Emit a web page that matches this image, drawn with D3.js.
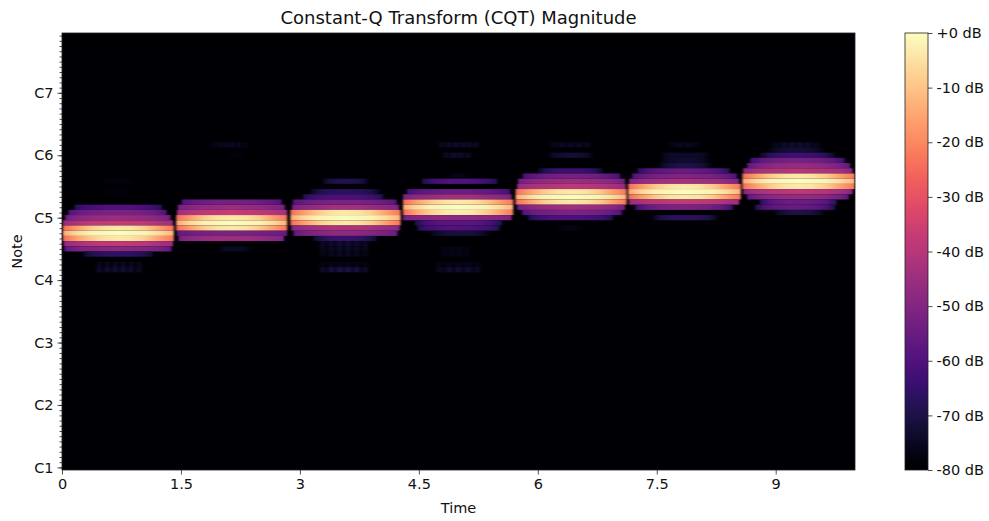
<!DOCTYPE html>
<html>
<head>
<meta charset="utf-8">
<script src="https://cdn.jsdelivr.net/npm/d3@7"></script>
<style>
body { margin: 0; background: white; }
text { font-family: "DejaVu Sans", sans-serif; fill: #111; }
</style>
</head>
<body>
<div id="chart"></div>
<script>
// Each row: [semitones above C1, start sec, end sec, dB readings evenly spread over the span]
var tone_a4 = [
    [55, 0.52, 0.88, [-79,-78,-79,-78,-79,-78,-79,-78,-79]],
    [53, 0.55, 0.85, [-79,-78,-79,-78,-79,-78,-79]],
    [50, 0.16, 1.26, [-68,-63,-61,-60,-60,-60,-61,-63,-68]],
    [49, 0.08, 1.32, [-60,-55,-53,-52,-52,-52,-53,-55,-60]],
    [48, 0.04, 1.37, [-54,-49,-47,-46,-45,-46,-47,-49,-53]],
    [47, 0.01, 1.40, [-46,-42,-39,-38,-37,-38,-39,-42,-45]],
    [46, 0.01, 1.41, [-25,-16,-9,-5,-4,-5,-9,-16,-23]],
    [45, 0.01, 1.41, [-15,-6,-2,-1,0,-1,-2,-6,-13]],
    [44, 0.01, 1.41, [-25,-16,-9,-5,-4,-5,-9,-16,-23]],
    [43, 0.02, 1.40, [-47,-43,-40,-39,-38,-39,-40,-43,-46]],
    [42, 0.03, 1.38, [-57,-52,-50,-49,-48,-49,-50,-52,-56]],
    [41, 0.27, 1.15, [-74,-69,-67,-66,-66,-66,-67,-69,-74]],
    [39, 0.42, 1.02, [-79,-75,-79,-74,-79,-74,-78,-74,-79,-74,-79,-75,-79]],
    [38, 0.42, 1.02, [-79,-73,-78,-71,-77,-71,-77,-71,-77,-72,-78,-73,-79]]
];
var tone_b4 = [
    [62, 1.87, 2.35, [-79,-76,-78,-75,-77,-74,-77,-74,-78,-75,-78,-76,-79]],
    [60, 2.10, 2.28, [-79,-78,-79,-78,-79]],
    [51, 1.51, 2.77, [-60,-56,-54,-53,-53,-53,-54,-56,-60]],
    [50, 1.46, 2.81, [-53,-49,-47,-46,-45,-46,-47,-49,-52]],
    [49, 1.45, 2.84, [-45,-41,-39,-38,-37,-38,-39,-41,-44]],
    [48, 1.44, 2.84, [-25,-16,-9,-5,-4,-5,-9,-16,-23]],
    [47, 1.44, 2.84, [-15,-6,-2,-1,0,-1,-2,-6,-13]],
    [46, 1.44, 2.84, [-25,-16,-9,-5,-4,-5,-9,-16,-23]],
    [45, 1.45, 2.84, [-57,-54,-53,-52,-52,-52,-53,-54,-56]],
    [44, 1.47, 2.80, [-52,-48,-46,-45,-45,-45,-46,-48,-51]],
    [42, 1.97, 2.38, [-79,-76,-75,-75,-75,-75,-75,-76,-79]]
];
var tone_c5 = [
    [55, 3.29, 3.86, [-76,-71,-70,-69,-69,-69,-70,-71,-76]],
    [53, 3.13, 4.01, [-76,-70,-68,-67,-67,-67,-68,-70,-76]],
    [52, 3.04, 4.05, [-69,-64,-62,-61,-61,-61,-62,-64,-69]],
    [51, 2.91, 4.22, [-59,-55,-53,-52,-52,-52,-53,-55,-59]],
    [50, 2.90, 4.25, [-52,-48,-46,-44,-44,-44,-46,-48,-51]],
    [49, 2.88, 4.27, [-25,-16,-9,-5,-4,-5,-9,-16,-23]],
    [48, 2.88, 4.27, [-15,-6,-2,-1,0,-1,-2,-6,-13]],
    [47, 2.88, 4.27, [-25,-16,-9,-5,-4,-5,-9,-16,-23]],
    [46, 2.89, 4.26, [-50,-46,-44,-42,-42,-42,-44,-46,-49]],
    [45, 2.92, 4.23, [-56,-52,-50,-48,-48,-48,-50,-52,-55]],
    [44, 3.17, 3.97, [-74,-69,-66,-65,-65,-65,-66,-69,-74]],
    [43, 3.23, 3.88, [-79,-74,-77,-73,-76,-72,-76,-72,-76,-73,-77,-74,-79]],
    [42, 3.23, 3.88, [-79,-75,-78,-74,-77,-73,-77,-73,-77,-74,-78,-75,-79]],
    [41, 3.23, 3.88, [-79,-76,-78,-75,-78,-74,-78,-74,-78,-75,-78,-76,-79]],
    [39, 3.23, 3.88, [-79,-77,-79,-76,-78,-76,-78,-76,-78,-76,-79,-77,-79]],
    [38, 3.23, 3.88, [-79,-73,-77,-70,-75,-69,-74,-69,-75,-70,-77,-73,-79]]
];
var tone_d5 = [
    [62, 4.74, 5.27, [-79,-74,-77,-73,-76,-73,-76,-73,-76,-73,-77,-74,-79]],
    [60, 4.79, 5.17, [-79,-74,-76,-73,-75,-73,-76,-74,-79]],
    [56, 4.85, 5.15, [-79,-78,-77,-77,-77,-78,-79]],
    [55, 4.54, 5.49, [-70,-64,-61,-60,-60,-60,-61,-64,-70]],
    [53, 4.35, 5.65, [-62,-58,-56,-55,-55,-55,-56,-58,-62]],
    [52, 4.30, 5.67, [-52,-48,-46,-44,-44,-44,-46,-48,-51]],
    [51, 4.30, 5.69, [-25,-16,-9,-5,-4,-5,-9,-16,-23]],
    [50, 4.30, 5.69, [-15,-6,-2,-1,0,-1,-2,-6,-13]],
    [49, 4.30, 5.69, [-25,-15,-8,-4,-3,-4,-8,-15,-23]],
    [48, 4.30, 5.67, [-53,-50,-49,-48,-48,-48,-49,-50,-52]],
    [47, 4.45, 5.55, [-70,-62,-59,-58,-58,-58,-59,-62,-70]],
    [46, 4.48, 5.52, [-70,-63,-61,-60,-60,-60,-61,-63,-70]],
    [45, 4.62, 5.40, [-79,-74,-72,-71,-71,-71,-72,-74,-79]],
    [42, 4.77, 5.15, [-79,-77,-78,-76,-78,-76,-78,-77,-79]],
    [41, 4.77, 5.15, [-79,-77,-78,-76,-78,-76,-78,-77,-79]],
    [39, 4.70, 5.30, [-79,-77,-79,-76,-78,-76,-78,-76,-79,-77,-79]],
    [38, 4.70, 5.30, [-79,-74,-77,-72,-76,-72,-76,-72,-77,-74,-79]]
];
var tone_e5 = [
    [62, 6.15, 6.68, [-79,-75,-77,-74,-77,-74,-77,-74,-77,-75,-79]],
    [60, 6.13, 6.70, [-78,-74,-73,-72,-72,-72,-73,-74,-78]],
    [57, 6.00, 6.82, [-75,-68,-65,-64,-64,-64,-65,-68,-75]],
    [56, 5.81, 7.04, [-61,-57,-54,-53,-52,-53,-54,-57,-61]],
    [55, 5.75, 7.10, [-54,-49,-47,-46,-45,-46,-47,-49,-54]],
    [54, 5.74, 7.11, [-47,-43,-41,-40,-39,-40,-41,-43,-47]],
    [53, 5.72, 7.12, [-25,-16,-9,-5,-4,-5,-9,-16,-23]],
    [52, 5.72, 7.12, [-15,-6,-2,-1,0,-1,-2,-6,-13]],
    [51, 5.72, 7.12, [-25,-16,-9,-5,-4,-5,-9,-16,-23]],
    [50, 5.74, 7.10, [-53,-49,-46,-45,-44,-45,-46,-49,-53]],
    [49, 5.80, 7.06, [-60,-55,-53,-52,-51,-52,-53,-55,-60]],
    [48, 5.88, 6.95, [-70,-64,-62,-61,-61,-61,-62,-64,-70]],
    [46, 6.24, 6.57, [-79,-78,-77,-77,-77,-78,-79]]
];
var tone_f5 = [
    [62, 7.64, 8.05, [-79,-76,-77,-75,-77,-75,-77,-76,-79]],
    [60, 7.54, 8.17, [-79,-75,-74,-74,-74,-74,-74,-75,-79]],
    [59, 7.54, 8.17, [-79,-75,-74,-73,-73,-73,-74,-75,-79]],
    [58, 7.52, 8.20, [-78,-73,-71,-70,-70,-70,-71,-73,-78]],
    [57, 7.26, 8.42, [-68,-60,-57,-56,-55,-56,-57,-60,-68]],
    [56, 7.19, 8.51, [-60,-55,-52,-51,-50,-51,-52,-55,-60]],
    [55, 7.15, 8.54, [-52,-47,-45,-44,-43,-44,-45,-47,-51]],
    [54, 7.14, 8.56, [-25,-16,-9,-5,-4,-5,-9,-16,-23]],
    [53, 7.14, 8.56, [-15,-6,-2,-1,0,-1,-2,-6,-13]],
    [52, 7.14, 8.56, [-25,-16,-9,-5,-4,-5,-9,-16,-23]],
    [51, 7.15, 8.54, [-46,-42,-40,-39,-38,-39,-40,-42,-45]],
    [50, 7.23, 8.46, [-64,-56,-53,-52,-51,-52,-53,-56,-64]],
    [48, 7.45, 8.26, [-76,-70,-68,-67,-67,-67,-68,-70,-76]]
];
var tone_g5 = [
    [62, 8.95, 9.56, [-79,-75,-77,-73,-76,-72,-76,-72,-76,-73,-77,-75,-79]],
    [61, 8.89, 9.62, [-79,-75,-73,-72,-72,-72,-73,-75,-79]],
    [60, 8.80, 9.75, [-75,-68,-65,-64,-63,-64,-65,-68,-75]],
    [59, 8.68, 9.87, [-64,-57,-54,-53,-52,-53,-54,-57,-64]],
    [58, 8.64, 9.94, [-57,-51,-48,-47,-46,-47,-48,-51,-57]],
    [57, 8.59, 9.97, [-49,-44,-42,-41,-40,-41,-42,-44,-49]],
    [56, 8.58, 10.0, [-25,-16,-9,-5,-4,-5,-9,-16,-23]],
    [55, 8.58, 10.0, [-15,-6,-2,-1,0,-1,-2,-6,-13]],
    [54, 8.58, 10.0, [-25,-16,-9,-5,-4,-5,-9,-16,-23]],
    [53, 8.59, 9.97, [-49,-44,-41,-40,-39,-40,-41,-44,-49]],
    [52, 8.64, 9.92, [-57,-51,-48,-47,-46,-47,-48,-51,-57]],
    [51, 8.80, 9.77, [-68,-59,-56,-55,-55,-55,-56,-59,-68]],
    [50, 8.74, 9.75, [-70,-60,-57,-56,-55,-56,-57,-60,-70]],
    [49, 8.97, 9.62, [-79,-73,-71,-70,-70,-70,-71,-73,-79]]
];
var tones = [tone_a4, tone_b4, tone_c5, tone_d5, tone_e5, tone_f5, tone_g5];

var note_names = ["C1", "C2", "C3", "C4", "C5", "C6", "C7"];
var note_bins = [0, 12, 24, 36, 48, 60, 72];
var time_ticks = [0, 1.5, 3, 4.5, 6, 7.5, 9];
var db_ticks = [0, -10, -20, -30, -40, -50, -60, -70, -80];

var width = 989, height = 521,
    left = 62, right = 855, top_ = 33, bottom = 470,
    bar_left = 905, bar_right = 928;

var x = d3.scaleLinear().domain([0, 10]).range([left, right]);
var y = d3.scaleLinear().domain([0, 84]).range([bottom, top_]);
var db_y = d3.scaleLinear().domain([-80, 0]).range([bottom, top_]);
var color = d3.scaleSequential(d3.interpolateMagma).domain([-80, 0]);

var svg = d3.select("#chart").append("svg")
    .attr("width", width)
    .attr("height", height);

var defs = svg.append("defs");
defs.append("clipPath").attr("id", "plot_clip").append("rect")
    .attr("x", left).attr("y", top_)
    .attr("width", right - left).attr("height", bottom - top_);
defs.append("filter").attr("id", "soft")
    .attr("filterUnits", "userSpaceOnUse")
    .attr("x", left - 10).attr("y", top_ - 10)
    .attr("width", right - left + 20).attr("height", bottom - top_ + 20)
    .attr("color-interpolation-filters", "sRGB")
    .append("feGaussianBlur").attr("stdDeviation", "1 0.6");

var plot = svg.append("g").attr("clip-path", "url(#plot_clip)");
var cells = plot.append("g").attr("filter", "url(#soft)");

cells.append("rect")
    .attr("x", left - 10).attr("y", top_ - 10)
    .attr("width", right - left + 20).attr("height", bottom - top_ + 20)
    .attr("fill", color(-80));

// one rect per note row, its dB readings become gradient stops
tones.forEach(function(tone, ti) {
    tone.forEach(function(row, ri) {
	var id = "row_" + ti + "_" + ri;
	var grad = defs.append("linearGradient").attr("id", id);
	grad.selectAll("stop")
	    .data(row[3])
	    .enter().append("stop")
	    .attr("offset", (d, i) => i / (row[3].length - 1))
	    .attr("stop-color", d => color(d));
	cells.append("rect")
	    .attr("x", x(row[1]))
	    .attr("y", y(row[0] + 1))
	    .attr("width", x(row[2]) - x(row[1]))
	    .attr("height", y(row[0]) - y(row[0] + 1))
	    .attr("fill", "url(#" + id + ")");
    });
});

// spines
svg.append("rect")
    .attr("x", left).attr("y", top_)
    .attr("width", right - left).attr("height", bottom - top_)
    .attr("fill", "none").attr("stroke", "#222").attr("stroke-width", 0.8);

// axes
var x_axis = svg.append("g")
    .attr("transform", "translate(0," + bottom + ")")
    .call(d3.axisBottom(x).tickValues(time_ticks).tickFormat(d3.format("")).tickSize(4.5).tickPadding(4));

var y_minor = svg.append("g")
    .attr("transform", "translate(" + left + ",0)")
    .call(d3.axisLeft(d3.scaleLinear().domain([-0.5, 83.5]).range([bottom, top_]))
	  .tickValues(d3.range(0, 84)).tickFormat("").tickSize(2.5));

var y_axis = svg.append("g")
    .attr("transform", "translate(" + left + ",0)")
    .call(d3.axisLeft(d3.scaleLinear().domain([-0.5, 83.5]).range([bottom, top_]))
	  .tickValues(note_bins)
	  .tickFormat((d, i) => note_names[i])
	  .tickSize(4.5).tickPadding(4));

// colorbar
var bar_levels = d3.range(-80, 1, 2);
var bar_grad = defs.append("linearGradient").attr("id", "bar_grad")
    .attr("x1", 0).attr("y1", 1).attr("x2", 0).attr("y2", 0);
bar_grad.selectAll("stop")
    .data(bar_levels)
    .enter().append("stop")
    .attr("offset", (d, i) => i / (bar_levels.length - 1))
    .attr("stop-color", d => color(d));
svg.append("rect")
    .attr("x", bar_left).attr("y", top_)
    .attr("width", bar_right - bar_left).attr("height", bottom - top_)
    .attr("fill", "url(#bar_grad)").attr("stroke", "#222").attr("stroke-width", 0.8);

var bar_axis = svg.append("g")
    .attr("transform", "translate(" + bar_right + ",0)")
    .call(d3.axisRight(db_y).tickValues(db_ticks)
	  .tickFormat(d => (d === 0 ? "+0" : d) + " dB")
	  .tickSize(4.5).tickPadding(4));

[x_axis, y_minor, y_axis, bar_axis].forEach(function(a) {
    a.select(".domain").remove();
    a.selectAll("line").attr("stroke", "#222").attr("stroke-width", 0.8);
    a.selectAll("text").style("font-size", "14.5px").attr("fill", "#111");
});

// titles
svg.append("text").attr("x", (left + right) / 2).attr("y", 24)
    .attr("text-anchor", "middle").style("font-size", "18px")
    .text("Constant-Q Transform (CQT) Magnitude");
svg.append("text").attr("x", (left + right) / 2).attr("y", 513)
    .attr("text-anchor", "middle").style("font-size", "14.5px")
    .text("Time");
svg.append("text").attr("transform", "translate(22," + (top_ + bottom) / 2 + ") rotate(-90)")
    .attr("text-anchor", "middle").style("font-size", "14.5px")
    .text("Note");
</script>
</body>
</html>
